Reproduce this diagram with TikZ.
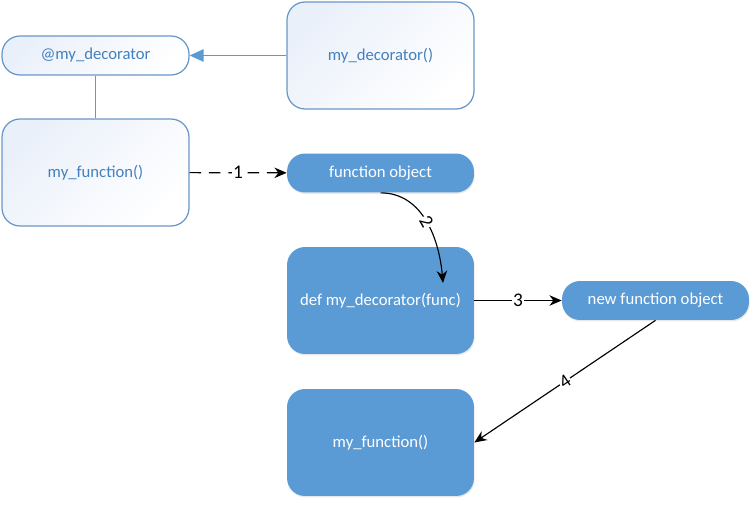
\documentclass[tikz,border=0pt]{standalone}
\usepackage{fontspec}
\setmainfont{Carlito}
\usetikzlibrary{positioning,calc}
\usetikzlibrary{arrows.meta,shadows}
\definecolor{FlowBlue}{RGB}{91,155,213}
\definecolor{FlowEdge}{RGB}{104,150,200}
\definecolor{FlowText}{RGB}{68,128,190}
\definecolor{FlowTint}{RGB}{234,240,250}
\tikzset{
	plainbox/.style={draw=FlowEdge,line width=0.7pt,rounded corners=0.36cm,
		top color=FlowTint,bottom color=white,shading angle=45,text=FlowText,
		minimum width=3.74cm,font=\fontsize{9.5}{11}\selectfont},
	solidbox/.style={fill=FlowBlue,draw=none,rounded corners=0.36cm,text=white,
		minimum width=3.74cm,font=\fontsize{9.5}{11}\selectfont,
		drop shadow={opacity=0.18,shadow xshift=0.4pt,shadow yshift=-0.8pt}},
	tall/.style={minimum height=2.14cm},
	flat/.style={minimum height=0.78cm},
	blueline/.style={draw=FlowBlue,line width=1.1pt},
	flow/.style={draw=black,line width=0.65pt,-{Stealth[length=7pt,width=6pt]}},
	lbl/.style={fill=white,inner sep=0.6pt,font=\fontsize{11}{13}\selectfont},
}
\begin{document}
\begin{tikzpicture}[x=0.02cm,y=0.02cm]
	\useasboundingbox (0,0) rectangle (756,-506);
	% upper row
	\node[plainbox,flat] (deco) at (95.5,-55.5) {@my\_decorator};
	\node[plainbox,tall] (decofn) at (380.5,-55.5) {my\_decorator()};
	\node[plainbox,tall] (myfn) at (95.5,-172.5) {my\_function()};
	% right column
	\node[solidbox,flat] (fobj) at (380.5,-173) {function object};
	\node[solidbox,tall] (defbox) at (380.5,-300.5) {def my\_decorator(func)};
	\node[solidbox,flat] (newobj) at (655.5,-300.5) {new function object};
	\node[solidbox,tall] (result) at (380.5,-442.5) {my\_function()};
	\coordinate (hit) at (443,-283);
	% connectors
	\draw[blueline,-{Triangle[length=8pt,width=7pt]}] (decofn) -- (deco);
	\draw[blueline] (deco) -- (myfn);
	\draw[flow,dash pattern=on 6.5pt off 4.5pt] (myfn) -- node[lbl]{1} (fobj);
	\draw[flow] (fobj.south) to[out=0,in=95] node[lbl,sloped]{2} (hit);
	\draw[flow] (defbox) -- node[lbl]{3} (newobj);
	\draw[flow] (newobj.south) -- node[lbl,sloped]{4} (result.east);
\end{tikzpicture}
\end{document}
